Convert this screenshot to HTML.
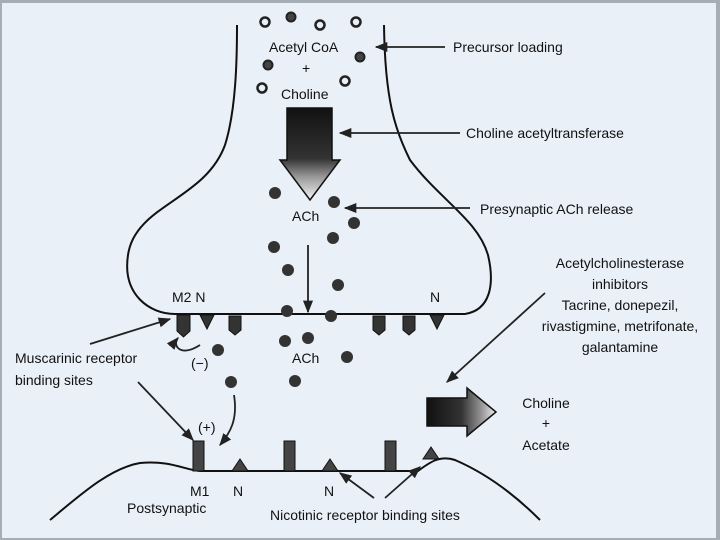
<!DOCTYPE html>
<html><head><style>
html,body{margin:0;padding:0;}
body{width:720px;height:540px;overflow:hidden;background:#a7adb5;}
svg{display:block}
text{font-family:"Liberation Sans",sans-serif;font-size:14px;fill:#111;}
</style></head><body>
<svg width="720" height="540" viewBox="0 0 720 540">
<defs>
<marker id="ah" viewBox="0 0 10 10" refX="9" refY="5" markerWidth="7" markerHeight="7" orient="auto"><path d="M0,1 L10,5 L0,9 z" fill="#222"/></marker>
<linearGradient id="g1" x1="0" y1="0" x2="0" y2="1"><stop offset="0" stop-color="#111"/><stop offset="0.55" stop-color="#333"/><stop offset="0.75" stop-color="#999"/><stop offset="1" stop-color="#f4f4f4"/></linearGradient>
<linearGradient id="g2" x1="0" y1="0" x2="1" y2="0"><stop offset="0" stop-color="#111"/><stop offset="0.5" stop-color="#333"/><stop offset="0.8" stop-color="#999"/><stop offset="1" stop-color="#eee"/></linearGradient>
</defs>
<rect x="2" y="3" width="714" height="535" fill="#e9f0f8"/>
<g fill="none" stroke="#111" stroke-width="2">
<!-- presynaptic -->
<path d="M237,25 C237,60 236,110 225,145 C205,200 135,205 128,255 C122,295 150,314 175,314 L465,314 C490,310 495,285 488,255 C478,220 440,200 410,160 C395,130 385,100 384,25"/>
<!-- postsynaptic -->
<path d="M50,520 C80,495 110,468 140,463 C170,460 185,470 200,471 L418,471 C430,462 440,455 455,460 C490,475 520,500 540,520"/>
</g>
<!-- vesicles open -->
<g fill="none" stroke="#222" stroke-width="2.5">
<circle cx="265" cy="22" r="4.5"/><circle cx="320" cy="25" r="4.5"/><circle cx="356" cy="22" r="4.5"/><circle cx="262" cy="88" r="4.5"/><circle cx="345" cy="81" r="4.5"/>
</g>
<g fill="#444" stroke="#222" stroke-width="2">
<circle cx="291" cy="17" r="4.5"/><circle cx="360" cy="57" r="4.5"/><circle cx="268" cy="65" r="4.5"/>
</g>
<!-- ACh dots -->
<g fill="#333">
<circle cx="275" cy="193" r="6"/><circle cx="334" cy="202" r="6"/><circle cx="354" cy="223" r="6"/><circle cx="333" cy="238" r="6"/>
<circle cx="274" cy="247" r="6"/><circle cx="288" cy="270" r="6"/><circle cx="338" cy="285" r="6"/><circle cx="287" cy="311" r="6"/><circle cx="331" cy="316" r="6"/>
<circle cx="308" cy="338" r="6"/><circle cx="285" cy="341" r="6"/><circle cx="218" cy="350" r="6"/><circle cx="347" cy="357" r="6"/><circle cx="295" cy="381" r="6"/><circle cx="231" cy="382" r="6"/>
</g>
<text x="269" y="52">Acetyl CoA</text>
<text x="302" y="73" font-size="11" fill="#888">+</text>
<text x="281" y="99">Choline</text>
<text x="292" y="221">ACh</text>
<text x="292" y="363">ACh</text>
<!-- big down arrow -->
<path d="M287,108 L332,108 L332,160 L340,160 L310,200 L280,160 L287,160 Z" fill="url(#g1)" stroke="#111" stroke-width="1.5"/>
<!-- arrow right -->
<path d="M427,398 L467,398 L467,388 L496,412 L467,436 L467,426 L427,426 Z" fill="url(#g2)" stroke="#111" stroke-width="1.5"/>
<!-- label lines -->
<g stroke="#222" stroke-width="1.8" fill="none" marker-end="url(#ah)">
<line x1="445" y1="47" x2="376" y2="47"/>
<line x1="460" y1="133" x2="340" y2="133"/>
<line x1="470" y1="208" x2="345" y2="208"/>
<line x1="308" y1="245" x2="308" y2="312"/>
<line x1="545" y1="293" x2="447" y2="382"/>
<line x1="90" y1="344" x2="170" y2="319"/>
<line x1="138" y1="382" x2="193" y2="440"/>
<line x1="374" y1="498" x2="340" y2="473"/>
<line x1="385" y1="498" x2="420" y2="467"/>
<path d="M234,395 C238,420 230,433 220,445"/>
<path d="M200,345 C180,358 172,345 178,338"/>
</g>
<!-- presynaptic receptors -->
<g fill="#333" stroke="#111" stroke-width="1">
<path d="M177,315 h13 v16 l-6.5,6 l-6.5,-6 z"/><path d="M200,315 h14 l-7,14 z"/><path d="M229,316 h12 v14 l-6,5 l-6,-5 z"/>
<path d="M373,316 h12 v14 l-6,5 l-6,-5 z"/><path d="M403,316 h12 v14 l-6,5 l-6,-5 z"/><path d="M430,315 h14 l-7,14 z"/>
</g>
<!-- postsynaptic receptors -->
<g fill="#444" stroke="#111" stroke-width="1">
<rect x="193" y="441" width="11" height="30"/><rect x="284" y="441" width="11" height="30"/><rect x="385" y="441" width="11" height="30"/>
<path d="M232,471 l8,-12 l8,12 z"/><path d="M322,471 l8,-12 l8,12 z"/><path d="M423,459 l8,-12 l8,12 z"/>
</g>
<text x="172" y="302">M2 N</text>
<text x="430" y="302">N</text>
<text x="191" y="368" font-size="13">(−)</text>
<text x="198" y="432" font-size="12">(+)</text>
<text x="15" y="363">Muscarinic receptor</text>
<text x="15" y="385">binding sites</text>
<text x="190" y="496">M1</text><text x="233" y="496">N</text><text x="324" y="496">N</text>
<text x="127" y="513">Postsynaptic</text>
<text x="270" y="520">Nicotinic receptor binding sites</text>
<text x="453" y="52">Precursor loading</text>
<text x="466" y="138">Choline acetyltransferase</text>
<text x="480" y="214">Presynaptic ACh release</text>
<text x="620" y="268" text-anchor="middle">Acetylcholinesterase</text>
<text x="620" y="289" text-anchor="middle">inhibitors</text>
<text x="620" y="310" text-anchor="middle">Tacrine, donepezil,</text>
<text x="620" y="331" text-anchor="middle">rivastigmine, metrifonate,</text>
<text x="620" y="352" text-anchor="middle">galantamine</text>
<text x="546" y="408" text-anchor="middle">Choline</text>
<text x="546" y="428" text-anchor="middle" font-size="11" fill="#888">+</text>
<text x="546" y="450" text-anchor="middle">Acetate</text>
</svg>
</body></html>
